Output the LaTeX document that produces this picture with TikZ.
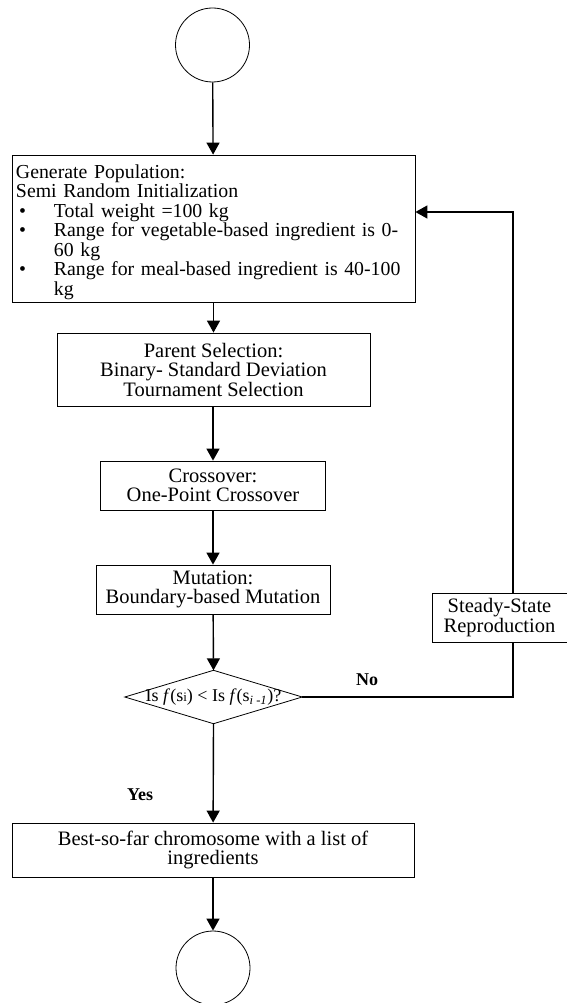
\documentclass[tikz,border=0pt]{standalone}
\usepackage{fontspec}
\setmainfont{Liberation Serif}
\usetikzlibrary{arrows.meta}
\begin{document}
\begin{tikzpicture}[x=1pt,y=-1pt,
  box/.style={draw,line width=0.8pt,inner sep=0pt,align=center,font=\fontsize{20.5}{19.5}\selectfont},
  term/.style={draw,circle,line width=0.8pt,minimum size=74pt,inner sep=0pt},
  conn/.style={line width=1.4pt,-{Triangle[width=13pt,length=12pt]}},
  plain/.style={line width=1.4pt},
  lbl/.style={font=\fontsize{18}{18}\selectfont\bfseries,inner sep=0pt}]
\useasboundingbox (0,0) rectangle (567,1003);
\node[term] (c1) at (212.5,45) {};
\node[box,minimum width=403pt,minimum height=147pt,text width=395pt,inner xsep=4pt,align=left,
  font=\fontsize{19.8}{19.5}\selectfont] (b1) at (213.5,228.5)
{\rule{0pt}{21pt}Generate Population:\\
Semi Random Initialization\\
\makebox[38pt][l]{\hspace{3pt}\textbullet}Total weight =100 kg\\
\makebox[38pt][l]{\hspace{3pt}\textbullet}Range for vegetable-based ingredient is 0-\\
\hspace*{38pt}60 kg\\
\makebox[38pt][l]{\hspace{3pt}\textbullet}\mbox{Range for meal-based ingredient is 40-100}\\
\hspace*{38pt}kg};
\node[box,minimum width=313pt,minimum height=73pt] (b2) at (213.5,369.5)
{Parent Selection:\\Binary- Standard Deviation\\Tournament Selection};
\node[box,minimum width=225pt,minimum height=49pt] (b3) at (213,485.5)
{Crossover:\\One-Point Crossover};
\node[box,minimum width=234pt,minimum height=49pt] (b4) at (213,589.5)
{Mutation:\\Boundary-based Mutation};
\node[inner sep=0pt,minimum width=177pt,minimum height=53pt,font=\fontsize{18}{18}\selectfont] (d) at (213.5,697)
{Is \textit{f}(s{\fontsize{13}{13}\selectfont i}) < Is \textit{f}(s\textsubscript{\textit{i -1}})?};
\draw[line width=0.8pt] (d.west) -- (d.north) -- (d.east) -- (d.south) -- cycle;
\node[box,minimum width=135pt,minimum height=49pt] (s) at (499.5,617.5)
{Steady-State\\Reproduction};
\node[box,minimum width=402pt,minimum height=54pt] (b5) at (213,850)
{Best-so-far chromosome with a list of\\ingredients};
\node[term] (c2) at (213,968) {};
\coordinate (turn) at (513,697);
\node[lbl] (no) at (367,680) {No};
\node[lbl] (yes) at (140,795) {Yes};
\draw[conn] (c1) -- (b1);
\draw[conn] (b1) -- (b1|-b2.north);
\draw[conn] (b2.south-|b3) -- (b3);
\draw[conn] (b3) -- (b4);
\draw[conn] (b4) -- (d.north);
\draw[conn] (d.south) -- (b5);
\draw[conn] (b5) -- (c2);
\draw[plain] (d.east) -- (turn) -- (turn|-s.south);
\draw[conn] (turn|-s.north) |- ([yshift=16.5pt]b1.east);
\end{tikzpicture}
\end{document}
